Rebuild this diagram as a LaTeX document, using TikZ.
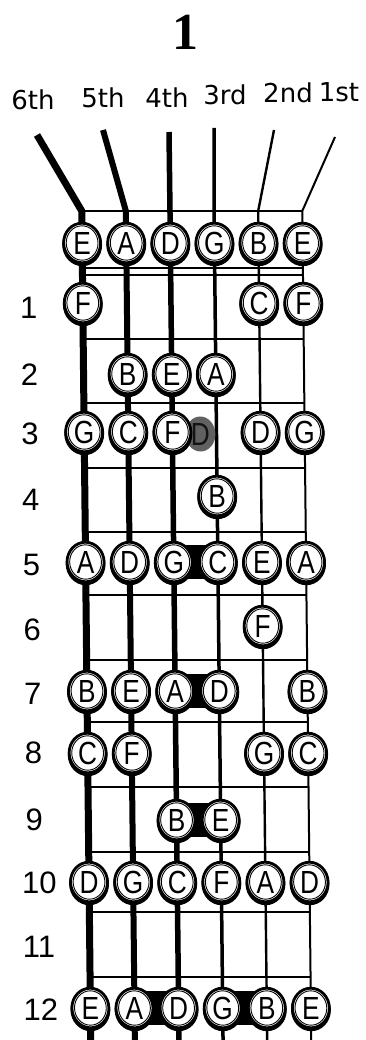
\documentclass[tikz,border=0pt]{standalone}
\usepackage{fontspec}
\setmainfont{Liberation Sans}
\newfontfamily\labfont{DejaVu Sans}
\newfontfamily\titfont{Liberation Serif}
\usetikzlibrary{shapes.geometric}
\pgfdeclarelayer{back}
\pgfdeclarelayer{mid}
\pgfdeclarelayer{ring}
\pgfsetlayers{back,mid,ring,main}
\begin{document}
\begin{tikzpicture}[x=1pt,y=1pt,
  notetext/.style={inner sep=0pt, font=\fontsize{32}{32}\selectfont},
  ringshadow/.style={fill=black},
  ringouter/.style={draw=black, fill=white, line width=2.8pt},
  ringinner/.style={draw=black, line width=0.9pt},
  ghost/.style={fill=black!62},
  ghosttext/.style={inner sep=0pt, text=black!92, font=\fontsize{32}{32}\selectfont},
  num/.style={anchor=west, inner sep=0pt, font=\fontsize{31}{31}\selectfont},
  lab/.style={anchor=base, inner sep=0pt, font=\labfont\fontsize{26}{26}\selectfont},
  str6/.style={line width=7pt, line join=round},
  str5/.style={line width=6pt, line join=round},
  str4/.style={line width=5.5pt, line join=round},
  str3/.style={line width=3.5pt, line join=round},
  str2/.style={line width=2.4pt, line join=round},
  str1/.style={line width=2pt, line join=round},
  fret/.style={line width=2.2pt},
  bar/.style={line width=34pt}
]
\begin{pgfonlayer}{back}
\fill[white] (0,0) rectangle (365,-1040);
\end{pgfonlayer}
\useasboundingbox (0,0) rectangle (365,-1040);

% title and string names
\node[anchor=base, inner sep=0pt, font=\titfont\bfseries\fontsize{52}{52}\selectfont] (title) at (185,-50) {1};
\node[lab] (l6) at (33,-110) {6th};
\node[lab] (l5) at (103,-108) {5th};
\node[lab] (l4) at (167,-108) {4th};
\node[lab] (l3) at (225,-105) {3rd};
\node[lab] (l2) at (288,-103) {2nd};
\node[lab] (l1) at (339,-102) {1st};

% free upper ends of the strings
\coordinate (t6) at (37,-135);
\coordinate (t5) at (103,-130);
\coordinate (t4) at (169,-132);
\coordinate (t3) at (214,-128);
\coordinate (t2) at (274,-130);
\coordinate (t1) at (335,-137);

\begin{scope}[cm={1,0,-0.0108,1,(0,0)}]
  \foreach \s in {1,...,6} {
    \coordinate (n\s) at ({79.5+44.1*(6-\s)},-211);
    \coordinate (b\s) at ({79.5+44.1*(6-\s)},-1040);
  }
  \begin{pgfonlayer}{back}
    \draw[str6] (t6) -- (n6) -- (b6);
    \draw[str5] (t5) -- (n5) -- (b5);
    \draw[str4] (t4) -- (n4) -- (b4);
    \draw[str3] (t3) -- (n3) -- (b3);
    \draw[str2] (t2) -- (n2) -- (b2);
    \draw[str1] (t1) -- (n1) -- (b1);
    \draw[line width=2.5pt] (n6) -- (n1);
    \draw[line width=1.4pt] (79.5,-268) -- (300,-268);
    \draw[line width=2pt] (79.5,-275) -- (300,-275);
    \foreach \y in {339,403,468,532,595,660,722,787,852,912,977}
      \draw[fret] (79.5,-\y) -- (300,-\y);
  \end{pgfonlayer}

  \foreach \r/\y/\s/\t in {
      o/243/6/E, o/243/5/A, o/243/4/D, o/243/3/G, o/243/2/B, o/243/1/E,
      1/303/6/F, 1/303/2/C, 1/303/1/F,
      2/374/5/B, 2/374/4/E, 2/374/3/A,
      3/432/6/G, 3/432/5/C, 3/432/4/F, 3/432/2/D, 3/432/1/G,
      4/496/3/B,
      5/562/6/A, 5/562/5/D, 5/562/4/G, 5/562/3/C, 5/562/2/E, 5/562/1/A,
      6/626/2/F,
      7/691/6/B, 7/691/5/E, 7/691/4/A, 7/691/3/D, 7/691/1/B,
      8/753/6/C, 8/753/5/F, 8/753/2/G, 8/753/1/C,
      9/820/4/B, 9/820/3/E,
      10/882/6/D, 10/882/5/G, 10/882/4/C, 10/882/3/F, 10/882/2/A, 10/882/1/D,
      12/1008/6/E, 12/1008/5/A, 12/1008/4/D, 12/1008/3/G, 12/1008/2/B, 12/1008/1/E}
  {
    \node[notetext] (r\r-\s) at ({79.5+44.1*(6-\s)},-\y) {\scalebox{0.82}[1]{\t}};
    \begin{pgfonlayer}{ring}
      \fill[ringshadow] ([yshift=-2pt]r\r-\s.center) ellipse [x radius=19.9, y radius=21.2];
      \draw[ringouter] (r\r-\s.center) ellipse [x radius=18.5, y radius=19.8];
      \draw[ringinner] (r\r-\s.center) ellipse [x radius=15.9, y radius=17.2];
    \end{pgfonlayer}
  }

  \node[ghosttext] (g3) at ({79.5+44.1*2+28},-434) {\scalebox{0.82}[1]{D}};
  \begin{pgfonlayer}{mid}
    \fill[ghost] (g3.center) ellipse [x radius=15, y radius=17.5];
    \draw[bar] (r5-4.center) -- (r5-3.center);
    \draw[bar] (r7-4.center) -- (r7-3.center);
    \draw[bar] (r9-4.center) -- (r9-3.center);
    \draw[bar] (r12-5.center) -- (r12-4.center);
    \draw[bar] (r12-3.center) -- (r12-2.center);
  \end{pgfonlayer}

  \foreach \n/\y in {1/308,2/375,3/434,4/500,5/565,6/630,7/694,8/753,9/820}
    \node[num] (k\n) at (16.5,-\y) {\n};
  \foreach \n/\y in {10/883,11/947,12/1010}
    \node[num] (k\n) at (12.5,-\y) {\n};
\end{scope}
\end{tikzpicture}
\end{document}
